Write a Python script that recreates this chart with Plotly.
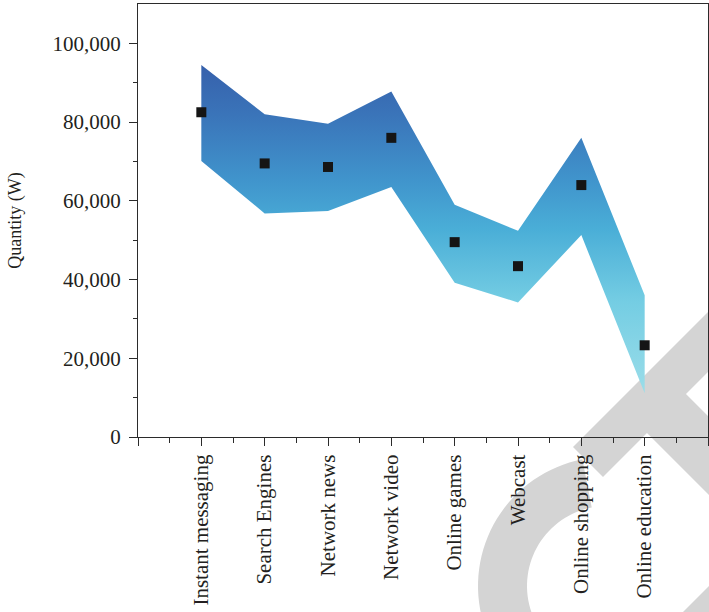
import math
import plotly.graph_objects as go

# ---------------- data ----------------
categories = ["Instant messaging", "Search Engines", "Network news", "Network video",
              "Online games", "Webcast", "Online shopping", "Online education"]
mean_values = [82500, 69500, 68600, 76000, 49500, 43400, 64000, 23300]
upper_values = [94500, 82000, 79600, 87800, 59000, 52400, 76000, 36000]
lower_values = [70100, 56800, 57400, 63500, 39200, 34200, 51300, 11100]
y_tick_values = [0, 20000, 40000, 60000, 80000, 100000]
y_tick_labels = ["0", "20,000", "40,000", "60,000", "80,000", "100,000"]

# ---------------- figure ----------------
W, H = 709, 612
ML, MR, MT, MB = 138, 1, 4, 175
FONT = "Liberation Serif"
INK = "#231f20"
AX = "#2b2b2b"

x_pos = list(range(1, len(categories) + 1))
band_x = x_pos + x_pos[::-1]
band_y = upper_values + lower_values[::-1]

fig = go.Figure()
fig.add_trace(go.Scatter(
    x=band_x, y=band_y, fill="toself", mode="none",
    fillgradient=dict(type="vertical", colorscale=[
        [0.0, "#9adde9"], [0.28, "#74cde3"], [0.5, "#4aaed7"],
        [0.65, "#4094cc"], [0.85, "#3a74b9"], [1.0, "#3660ab"]]),
    hoverinfo="skip", showlegend=False))
fig.add_trace(go.Scatter(
    x=x_pos, y=mean_values, mode="markers",
    marker=dict(symbol="square", size=10, color="#151515"),
    showlegend=False))

# watermark shapes (pixel geometry -> paper coordinates)
PW, PH = W - ML - MR, H - MT - MB


def P(px, py):
    return (px - ML) / PW, (H - MB - py) / PH


def path(points):
    s = ""
    for i, (px, py) in enumerate(points):
        x, y = P(px, py)
        s += ("M" if i == 0 else "L") + f"{x:.5f},{y:.5f} "
    return s + "Z"


x_shape = [(573, 447), (760, 260), (760, 320), (686, 394), (770, 478),
           (770, 556), (647, 433), (603, 477)]
cx, cy, ro, ri = 607, 586, 129, 80
ring = []
for k in range(0, 41):
    a = math.radians(140 + (259 - 140) * k / 40)
    ring.append((cx + ro * math.cos(a), cy + ro * math.sin(a)))
for k in range(40, -1, -1):
    a = math.radians(140 + (259 - 140) * k / 40)
    ring.append((cx + ri * math.cos(a), cy + ri * math.sin(a)))
corner = [(680, 615), (716, 579), (716, 615)]

shapes = []
for pts in (x_shape, ring, corner):
    shapes.append(dict(type="path", xref="paper", yref="paper", path=path(pts),
                       fillcolor="#d4d4d4", line=dict(width=0), layer="below"))

fig.update_layout(
    width=W, height=H, autosize=False,
    margin=dict(l=ML, r=MR, t=MT, b=MB, pad=0),
    paper_bgcolor="white", plot_bgcolor="rgba(0,0,0,0)",
    font=dict(family=FONT, size=21, color=INK),
    shapes=shapes,
    xaxis=dict(
        range=[0, len(categories) + 1],
        tickmode="array", tickvals=list(range(0, len(categories) + 2)),
        ticktext=[""] + categories + [""],
        tickangle=-90, ticks="outside", ticklen=8, tickwidth=1.3, tickcolor=AX,
        showline=True, linecolor=AX, linewidth=1.3, mirror=True,
        showgrid=False, zeroline=False,
        tickfont=dict(family=FONT, size=21, color=INK),
        minor=dict(tickmode="array",
                   tickvals=[v + 0.5 for v in range(0, len(categories) + 1)],
                   ticks="outside", ticklen=5, tickwidth=1.3, tickcolor=AX,
                   showgrid=False),
    ),
    yaxis=dict(
        range=[0, 110000],
        tickmode="array", tickvals=y_tick_values, ticktext=y_tick_labels,
        ticks="outside", ticklen=8, tickwidth=1.3, tickcolor=AX,
        showline=True, linecolor=AX, linewidth=1.3, mirror=True,
        showgrid=False, zeroline=False, ticklabelstandoff=4,
        tickfont=dict(family=FONT, size=21, color=INK),
        title=dict(text="Quantity (W)", font=dict(family=FONT, size=18, color=INK),
                   standoff=26),
        minor=dict(tickmode="array", tickvals=[10000, 30000, 50000, 70000, 90000],
                   ticks="outside", ticklen=4, tickwidth=1.3, tickcolor=AX,
                   showgrid=False),
    ),
)

fig.write_html("out.html")
